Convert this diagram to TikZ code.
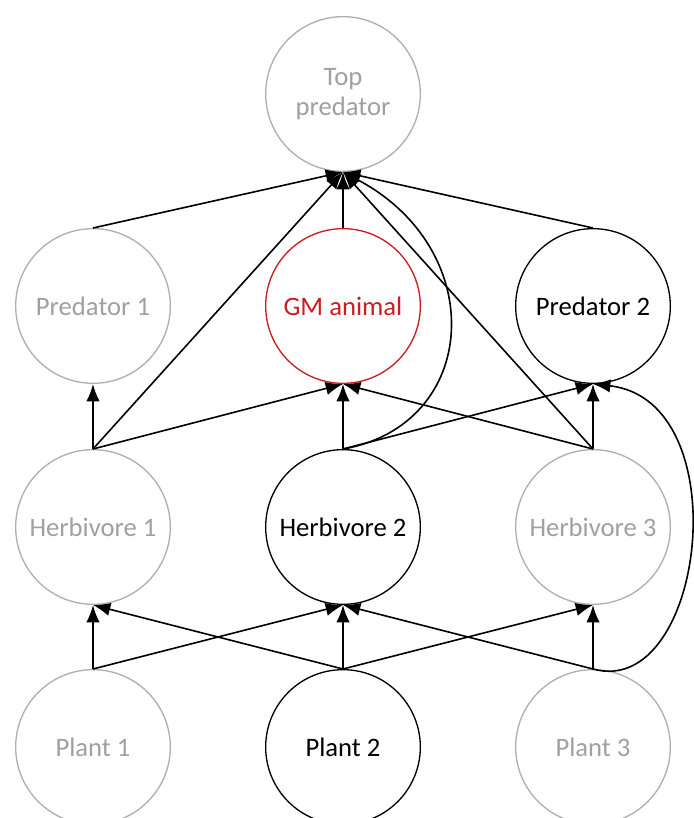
\documentclass[tikz,border=0pt]{standalone}
\usepackage{fontspec}
\setmainfont{Carlito}
\usetikzlibrary{arrows.meta, positioning}

\definecolor{dimline}{RGB}{175,175,175}
\definecolor{dimtext}{RGB}{160,160,160}
\definecolor{gmred}{RGB}{200,30,35}

\begin{document}
\begin{tikzpicture}[x=0.75pt,y=0.75pt,>={Latex[length=13pt,width=10pt]},line join=bevel,
    species/.style={draw, circle, minimum size=116pt, inner sep=1pt, align=center,
        line width=1pt, font=\fontsize{20}{23}\selectfont},
    dimmed/.style={species, draw=dimline, text=dimtext},
    gm/.style={species, draw=gmred, text=gmred},
    link/.style={->, line width=1.2pt}]
        \useasboundingbox (0,0) rectangle (693,818);
        % trophic levels
        \node[dimmed] (top) at (343,724) {Top\\predator};
        \node[dimmed] (pred1) at (93,512) {Predator 1};
        \node[gm] (gman) at (343,512) {GM animal};
        \node[species] (pred2) at (593,512) {Predator 2};
        \node[dimmed] (herb1) at (93,291) {Herbivore 1};
        \node[species] (herb2) at (343,291) {Herbivore 2};
        \node[dimmed] (herb3) at (593,291) {Herbivore 3};
        \node[dimmed] (plant1) at (93,71) {Plant 1};
        \node[species] (plant2) at (343,71) {Plant 2};
        \node[dimmed] (plant3) at (593,71) {Plant 3};
        % who eats whom
        \foreach \a/\b in {pred1/top, gman/top, pred2/top, herb1/top, herb3/top,
            herb1/pred1, herb1/gman, herb2/gman, herb3/gman, herb2/pred2, herb3/pred2,
            plant1/herb1, plant1/herb2, plant2/herb1, plant2/herb2, plant2/herb3,
            plant3/herb2, plant3/herb3}
            \draw[link] (\a.north) -- (\b.south);
        \draw[link] (herb2.north) .. controls (480,393) and (490,568) .. (top.south);
        \draw[link] (plant3.north) .. controls (705,118) and (740,418) .. (pred2.south);
      \end{tikzpicture}
\end{document}
